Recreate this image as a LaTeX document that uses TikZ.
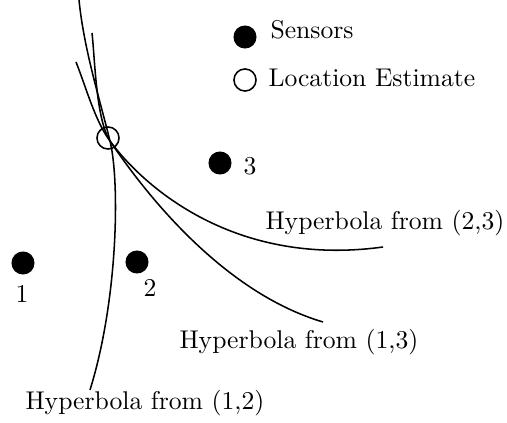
\documentclass[tikz,border=0pt]{standalone}
\begin{document}
\begin{tikzpicture}[x=0.39pt,y=-0.39pt,
  sensor/.style={circle,fill=black,inner sep=0pt,minimum size=9pt},
  estimate/.style={circle,draw=black,line width=0.6pt,inner sep=0pt,minimum size=8.6pt},
  lbl/.style={inner sep=0pt,anchor=base west},
  num/.style={inner sep=0pt,anchor=base},
  hyp/.style={line width=0.6pt}]
\useasboundingbox (0,0) rectangle (507,423);
% hyperbolas
\coordinate (x) at (110,141);
\draw[hyp] (79,0) .. controls (84,50) and (100,100) .. (x)
  .. controls (120,182) and (118,300) .. (90,390);
\draw[hyp] (92,33) .. controls (95,60) and (96,119) .. (x)
  .. controls (135,178) and (215,290) .. (323,322);
\draw[hyp] (76,62) .. controls (86,87) and (95,121) .. (x)
  .. controls (140,182) and (230,268) .. (383,247);
% estimate
\node[estimate] (est) at (108,138) {};
% sensors
\node[sensor] (s1) at (23,263) {};
\node[sensor] (s2) at (137,262) {};
\node[sensor] (s3) at (220,163) {};
\node[num] (l1) at (22,303) {1};
\node[num] (l2) at (150,297) {2};
\node[num] (l3) at (250,175) {3};
% legend
\node[sensor] (legs) at (245,37) {};
\node[estimate] (lege) at (245,80) {};
\node[lbl] (tsens) at (270,39) {Sensors};
\node[lbl] (test) at (268,87) {Location Estimate};
% hyperbola labels
\node[lbl] (h23) at (265,230) {Hyperbola from (2,3)};
\node[lbl] (h13) at (179,349) {Hyperbola from (1,3)};
\node[lbl] (h12) at (25,410) {Hyperbola from (1,2)};
\end{tikzpicture}
\end{document}
